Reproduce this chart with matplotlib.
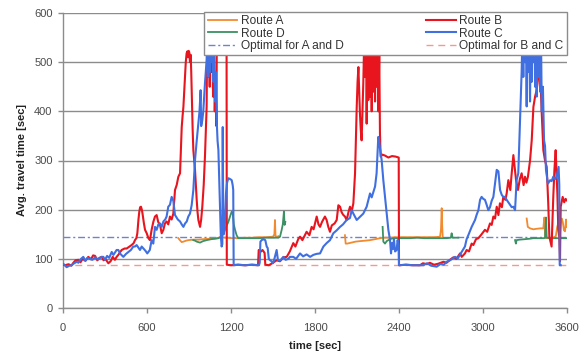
import numpy as np
import matplotlib
matplotlib.use("Agg")
import matplotlib.pyplot as plt

NaN = np.nan

# ---------------- data ----------------
route_b_t = [0, 14, 40, 60, 74, 90, 110, 125, 140, 160, 181, 200, 215, 229, 245, 260, 276, 290, 305, 324,
             340, 355, 371, 383, 395, 419, 440, 455, 470, 490, 505, 514, 524, 531, 539, 545, 551, 557, 563,
             568, 578, 586, 598, 610, 621, 633, 645, 657, 669, 680, 693, 705, 717, 728, 740, 752, 764, 776,
             788, 800, 812, 824, 836, 842, 848, 854, 860, 866, 871, 877, 883, 888, 893, 898, 902, 907, 912,
             916, 919, 926, 931, 937, 943, 949, 955, 961, 967, 979, 987, 995, 1005, 1014, 1020, 1026,
             1030, 1036, 1042, 1048, 1054, 1060, 1066, 1072, 1078, 1084, 1090, 1096, 1100, 1168, 1170,
             1200, 1250, 1300, 1350, 1393, 1398, 1410, 1425, 1440, 1445, 1470, 1500, 1526, 1550, 1574,
             1598, 1620, 1645, 1660, 1680, 1693, 1710, 1740, 1760, 1776, 1790, 1812, 1825, 1836, 1850,
             1871, 1883, 1895, 1907, 1920, 1940, 1955, 1967, 1979, 1990, 2000, 2014, 2026, 2040, 2050,
             2062, 2074, 2086, 2098, 2104, 2110, 2116, 2121, 2127, 2133, 2139, 2145, 2151, 2157, 2163,
             2169, 2175, 2181, 2187, 2193, 2199, 2205, 2211, 2217, 2223, 2229, 2235, 2241, 2247, 2253,
             2259, 2264, 2269, 2280, 2300, 2324, 2350, 2375, 2398, 2400, 2450, 2500, 2550, 2571, 2600,
             2620, 2650, 2680, 2717, 2740, 2764, 2788, 2810, 2836, 2848, 2871, 2883, 2900, 2919, 2931,
             2950, 2967, 2990, 3014, 3030, 3050, 3062, 3074, 3086, 3098, 3110, 3121, 3135, 3145, 3160,
             3169, 3181, 3195, 3205, 3217, 3225, 3236, 3250, 3263, 3276, 3290, 3300, 3310, 3321, 3336,
             3348, 3360, 3372, 3383, 3395, 3407, 3419, 3431, 3443, 3455, 3466, 3474, 3490, 3502, 3510,
             3519, 3531, 3538, 3545, 3550, 3555, 3569, 3580, 3590, 3597]
route_b_v = [88, 87, 89, 86, 92, 97, 98, 93, 100, 96, 104, 99, 107, 106, 97, 102, 104, 97, 99, 91,
             95, 104, 98, 104, 108, 118, 121, 121, 124, 128, 132, 138, 142, 152, 180, 196, 205, 206, 200,
             192, 172, 159, 152, 142, 138, 159, 175, 186, 189, 175, 169, 152, 159, 172, 176, 170, 186, 180,
             192, 240, 250, 267, 274, 320, 368, 390, 409, 440, 463, 500, 518, 522, 510, 523, 520, 500, 515,
             480, 443, 364, 321, 300, 281, 250, 220, 195, 179, 165, 180, 206, 250, 308, 360, 409,
             560, 470, 580, 450, 600, 480, 560, 430, 520, 400, 470, 370, 650, 650, 88,
             87, 88, 87, 88, 87, 118, 114, 118, 112, 88, 87, 92, 97, 95, 103,
             104, 115, 132, 125, 140, 145, 138, 155, 148, 165, 160, 186, 170, 165, 175,
             186, 179, 165, 155, 168, 172, 179, 209, 206, 195, 190, 186, 179, 196, 206,
             196, 213, 274, 409, 460, 490, 440, 396, 362, 341, 400, 457, 540, 470, 600,
             375, 560, 423, 620, 430, 590, 400, 640, 440, 580, 420, 610, 450, 570, 400,
             520, 355, 308, 312, 310, 306, 309, 308, 306, 87, 88, 87, 87, 91, 89,
             92, 88, 90, 94, 92, 98, 103, 100, 111, 104, 111, 118, 115, 131, 128,
             140, 142, 150, 159, 155, 172, 169, 186, 182, 206, 189, 213, 205, 226, 220,
             233, 260, 240, 274, 311, 290, 260, 240, 262, 274, 250, 267, 255, 267, 300,
             341, 409, 430, 443, 470, 490, 400, 321, 300, 287, 213, 145, 125, 226, 280,
             321, 233, 159, 145, 95, 206, 226, 215, 222, 219]

route_c_t = [0, 10, 26, 45, 60, 75, 98, 110, 125, 145, 160, 175, 193, 210, 230, 250, 276, 288, 300, 315,
             330, 348, 360, 383, 395, 410, 431, 450, 467, 485, 502, 514, 526, 540, 550, 562, 574, 590,
             602, 620, 633, 645, 657, 669, 681, 693, 705, 717, 730, 740, 752, 764, 776, 788, 800, 807,
             820, 836, 848, 860, 872, 884, 895, 907, 919, 931, 943, 955, 967, 975, 983, 987, 995, 1002,
             1008, 1014, 1020, 1026, 1032, 1038, 1044, 1050, 1056, 1062, 1068, 1074, 1080, 1086, 1092,
             1098, 1104, 1110, 1116, 1121, 1127, 1133, 1138, 1141, 1144, 1148, 1155, 1164, 1172, 1181,
             1195, 1205, 1212, 1216, 1219, 1250, 1300, 1350, 1400, 1405, 1410, 1419, 1430, 1445, 1455,
             1462, 1470, 1480, 1490, 1500, 1510, 1526, 1535, 1550, 1574, 1590, 1610, 1621, 1645, 1665,
             1693, 1715, 1740, 1765, 1788, 1810, 1836, 1860, 1883, 1907, 1931, 1955, 1979, 2000, 2026,
             2050, 2062, 2074, 2098, 2120, 2145, 2169, 2193, 2205, 2229, 2240, 2252, 2258, 2264, 2276,
             2288, 2300, 2312, 2324, 2336, 2343, 2350, 2357, 2364, 2372, 2383, 2390, 2397, 2400, 2450,
             2500, 2550, 2574, 2600, 2630, 2669, 2700, 2720, 2740, 2764, 2780, 2800, 2820, 2848, 2871,
             2883, 2895, 2919, 2931, 2943, 2955, 2967, 2979, 2990, 3002, 3014, 3026, 3038, 3050, 3062,
             3074, 3086, 3098, 3110, 3122, 3134, 3145, 3157, 3169, 3181, 3193, 3205, 3217, 3229, 3240,
             3252, 3264, 3270, 3276, 3282, 3288, 3294, 3300, 3306, 3312, 3318, 3324, 3330, 3336, 3342,
             3348, 3354, 3360, 3366, 3372, 3378, 3384, 3390, 3396, 3402, 3408, 3414, 3420, 3428, 3436,
             3443, 3450, 3464, 3480, 3490, 3502, 3514, 3526, 3535, 3540, 3545, 3548, 3555]
route_c_v = [90, 88, 83, 86, 87, 90, 94, 92, 99, 104, 96, 102, 100, 98, 103, 99, 104, 104, 98, 106,
             102, 114, 108, 118, 118, 110, 104, 110, 114, 118, 125, 125, 128, 122, 118, 125, 121, 116,
             111, 118, 138, 131, 165, 159, 170, 172, 165, 176, 180, 186, 206, 210, 226, 218, 189, 186,
             180, 176, 170, 165, 172, 176, 186, 192, 209, 240, 301, 340, 375, 400, 443, 370, 382, 400,
             430, 457, 480, 504, 560, 470, 590, 480, 620, 500, 600, 460, 560, 420, 480,
             380, 340, 321, 260, 206, 150, 125, 130, 368, 200, 150, 159, 233, 255, 264,
             262, 260, 250, 240, 87, 88, 87, 88, 87, 92, 135, 138, 140, 138, 125,
             122, 100, 97, 95, 91, 100, 118, 98, 96, 104, 98, 100, 104, 104, 100,
             111, 105, 109, 104, 108, 110, 111, 125, 132, 138, 152, 158, 165, 170, 179,
             183, 199, 192, 179, 185, 192, 206, 233, 225, 247, 274, 348, 340, 325, 301,
             260, 226, 192, 159, 138, 111, 132, 120, 140, 115, 118, 138, 128, 87, 88,
             87, 87, 87, 91, 86, 84, 90, 88, 94, 97, 100, 104, 101, 114, 125,
             140, 148, 165, 172, 179, 190, 199, 220, 226, 222, 220, 210, 199, 205, 218,
             226, 253, 281, 278, 240, 230, 226, 226, 220, 215, 210, 205, 206, 199, 260,
             274, 376, 430, 480, 560, 470, 600, 500, 580, 410, 610, 480, 560, 420, 600,
             460, 590, 500, 610, 450, 560, 430, 600, 470, 580, 440, 560, 400, 450, 341,
             330, 280, 253, 260, 258, 267, 262, 267, 280, 287, 250, 87, 87]

route_a_t = [824, 835, 848, 860, 880, 895, 930, 970, 1000, 1050, 1100, 1121, 1160, 1214, 1260, 1300, 1350,
             1400, 1450, 1500, 1510, 1514, 1518, 1530, 1538, 1539,
             2014, 2019, 2030, 2060, 2090, 2121, 2160, 2193, 2230, 2264, 2290, 2330, 2370, 2400, 2450,
             2500, 2550, 2600, 2650, 2693, 2700, 2705, 2708, 2712, 2713,
             3312, 3320, 3336, 3360, 3380, 3410, 3431, 3438, 3443, 3448, 3470, 3500, 3520, 3530, 3540,
             3548, 3555, 3562, 3570, 3578, 3586, 3593, 3600]
route_a_v = [142, 138, 134, 135, 137, 138, 139, 139, 140, 141, 142, 144, 143, 142, 142, 143, 143,
             144, 144, 145, 150, 179, 146, 145, 146, NaN,
             148, 131, 131, 133, 135, 136, 137, 138, 140, 142, 143, 143, 144, 144, 144,
             144, 144, 144, 144, 145, 160, 203, 170, 146, NaN,
             182, 165, 162, 160, 161, 162, 162, 184, 150, 142, 142, 143, 146, 165, 175,
             145, 169, 182, 175, 158, 156, 180, 165]

route_d_t = [931, 943, 955, 967, 979, 1000, 1026, 1060, 1090, 1110, 1130, 1145, 1157, 1170, 1181, 1193,
             1205, 1212, 1220, 1229, 1240, 1252, 1300, 1350, 1400, 1450, 1500, 1538, 1550, 1562, 1570,
             1578, 1583, 1588, 1589,
             2283, 2288, 2300, 2312, 2336, 2360, 2400, 2450, 2479, 2530, 2580, 2621, 2660, 2700, 2740,
             2770, 2776, 2782, 2800, 2824, 2825,
             3229, 3235, 3240, 3260, 3300, 3336, 3360, 3400, 3436, 3443, 3450, 3455, 3480, 3520, 3560,
             3600]
route_d_v = [138, 137, 135, 134, 133, 136, 138, 140, 141, 142, 145, 152, 160, 168, 175, 186,
             196, 193, 170, 159, 148, 142, 142, 142, 142, 143, 143, 143, 145, 159, 170,
             196, 169, 175, NaN,
             165, 135, 131, 136, 140, 142, 142, 142, 142, 143, 142, 142, 142, 142, 142,
             143, 152, 143, 143, 143, NaN,
             138, 131, 138, 139, 140, 141, 142, 142, 142, 143, 184, 143, 142, 142, 142,
             142]

optimal_ad = 144
optimal_bc = 87

x_ticks = [0, 600, 1200, 1800, 2400, 3000, 3600]
y_ticks = [0, 100, 200, 300, 400, 500, 600]
x_label = "time [sec]"
y_label = "Avg. travel time [sec]"
labels = ["Route A", "Route B", "Route D", "Route C", "Optimal for A and D", "Optimal for B and C"]

# ---------------- styling ----------------
plt.rcParams['font.family'] = ['Liberation Sans', 'DejaVu Sans']

c_a = "#f28a2e"
c_b = "#e8141e"
c_d = "#3b9163"
c_c = "#3f6fe0"
c_oad = "#6c84cc"
c_obc = "#f29a8e"
grid_c = "#8c8c8c"
text_c = "#4a4a4a"

fig = plt.figure(figsize=(5.82, 3.56), dpi=100)
ax = fig.add_axes([63 / 582, 1 - 308 / 356, (567 - 63) / 582, (308 - 13) / 356])

h_oad, = ax.plot([0, 3600], [optimal_ad, optimal_ad], color=c_oad, lw=1.0,
                 dashes=(5, 2, 1.5, 2), zorder=2)
h_obc, = ax.plot([0, 3600], [optimal_bc, optimal_bc], color=c_obc, lw=1.0,
                 dashes=(5, 3.5), zorder=2)
h_a, = ax.plot(route_a_t, route_a_v, color=c_a, lw=1.3, zorder=3)
h_d, = ax.plot(route_d_t, route_d_v, color=c_d, lw=1.3, zorder=3)
h_b, = ax.plot(route_b_t, route_b_v, color=c_b, lw=1.5, zorder=4)
h_c, = ax.plot(route_c_t, route_c_v, color=c_c, lw=1.5, zorder=5)

ax.set_xlim(0, 3600)
ax.set_ylim(0, 600)
ax.set_xticks(x_ticks)
ax.set_yticks(y_ticks)
ax.yaxis.grid(True, color=grid_c, lw=1.0, zorder=0)
ax.set_axisbelow(True)
for s in ['top', 'right']:
    ax.spines[s].set_visible(False)
for s in ['left', 'bottom']:
    ax.spines[s].set_color(grid_c)
    ax.spines[s].set_linewidth(1.0)
ax.tick_params(axis='both', direction='out', length=3.5, width=1.0, color=grid_c,
               labelsize=8, labelcolor=text_c)
ax.tick_params(axis='x', pad=7)
ax.tick_params(axis='y', pad=4)

ax.set_xlabel(x_label, fontsize=8, fontweight='bold', color='#222222', labelpad=6)
ax.set_ylabel(y_label, fontsize=8, fontweight='bold', color='#222222', labelpad=5)

handles = [h_a, h_d, h_oad, h_b, h_c, h_obc]
hlabels = [labels[0], labels[2], labels[4], labels[1], labels[3], labels[5]]
leg_x0 = (204 - 63) / 504
leg_y0 = (308 - 55) / 295
leg = ax.legend(handles, hlabels, ncol=2, loc='upper right', mode='expand',
                bbox_to_anchor=(leg_x0, leg_y0, 1.0 - leg_x0, 1.004 - leg_y0),
                fontsize=8.6, frameon=True, fancybox=False, framealpha=1.0, edgecolor='#8c8c8c',
                borderpad=0.3, labelspacing=0.02, handlelength=2.5, handletextpad=0.3,
                columnspacing=2.0, borderaxespad=0.0)
leg.get_frame().set_linewidth(1.0)
leg.set_zorder(10)
for t in leg.get_texts():
    t.set_color('#333333')

fig.savefig("out.png", dpi=100)
